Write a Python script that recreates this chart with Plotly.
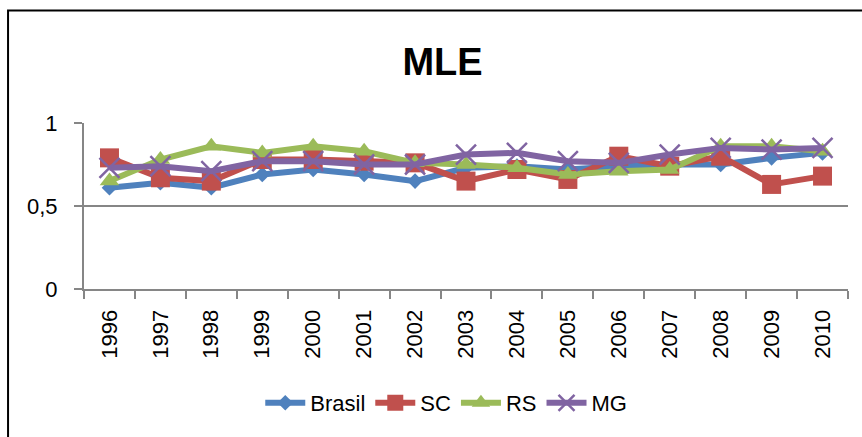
import plotly.graph_objects as go

years = ["1996", "1997", "1998", "1999", "2000", "2001", "2002", "2003",
         "2004", "2005", "2006", "2007", "2008", "2009", "2010"]
brasil = [0.61, 0.64, 0.61, 0.69, 0.72, 0.69, 0.65, 0.73, 0.74, 0.72, 0.74, 0.75, 0.75, 0.79, 0.82]
sc = [0.79, 0.67, 0.65, 0.78, 0.78, 0.77, 0.76, 0.65, 0.72, 0.66, 0.80, 0.74, 0.80, 0.63, 0.68]
rs = [0.65, 0.78, 0.86, 0.82, 0.86, 0.83, 0.76, 0.75, 0.73, 0.69, 0.71, 0.72, 0.86, 0.86, 0.83]
mg = [0.73, 0.74, 0.71, 0.77, 0.77, 0.75, 0.75, 0.81, 0.82, 0.77, 0.76, 0.81, 0.85, 0.84, 0.85]
y_ticks = [0, 0.5, 1]
y_labels = ["0", "0,5", "1"]

FONT = "Liberation Sans"

series = [
    ("Brasil", brasil, "#4F81BD", dict(symbol="diamond", size=12)),
    ("SC", sc, "#C0504D", dict(symbol="square", size=19)),
    ("RS", rs, "#9BBB59", dict(symbol="triangle-up", size=17)),
    ("MG", mg, "#8064A2", dict(symbol="x-thin", size=20, line=dict(width=2.5, color="#8064A2"))),
]

fig = go.Figure()
for name, vals, col, mk in series:
    fig.add_trace(go.Scatter(
        x=years, y=vals, name=name, mode="lines+markers",
        line=dict(color=col, width=6),
        marker=dict(color=col, **mk),
    ))

L, R, T, B = 83.5, 14, 123, 148
W, H = 862, 437
pw, ph = W - L - R, H - T - B

def px_to_paper_x(px):
    return (px - L) / pw

def px_to_paper_y(py):
    return (H - B - py) / ph

fig.update_layout(
    width=W, height=H,
    margin=dict(l=L, r=R, t=T, b=B, pad=0),
    paper_bgcolor="white", plot_bgcolor="white",
    font=dict(family=FONT, size=22, color="black"),
    title=dict(text="<b>MLE</b>", font=dict(family=FONT, size=38, color="black"),
               x=442.5 / W, xanchor="center", y=1 - 62 / H, yanchor="middle",
               xref="container", yref="container"),
    showlegend=True,
    legend=dict(orientation="h", x=px_to_paper_x(446), xanchor="center",
                y=px_to_paper_y(403), yanchor="middle",
                font=dict(family=FONT, size=22), itemwidth=40,
                bgcolor="rgba(0,0,0,0)"),
    xaxis=dict(type="category", tickangle=-90, showgrid=False,
               showline=True, linecolor="#868686", linewidth=2,
               ticks="outside", tickson="boundaries", ticklen=8,
               tickcolor="#868686", tickwidth=2, ticklabelstandoff=10,
               tickfont=dict(family=FONT, size=22), range=[-0.5, 14.5]),
    yaxis=dict(range=[0, 1], tickvals=y_ticks, ticktext=y_labels,
               showgrid=True, gridcolor="#868686", gridwidth=2,
               showline=True, linecolor="#868686", linewidth=2,
               ticks="outside", ticklen=8, tickcolor="#868686", tickwidth=2,
               ticklabelstandoff=12,
               zeroline=False, tickfont=dict(family=FONT, size=22)),
    shapes=[dict(type="rect", xref="paper", yref="paper",
                 x0=px_to_paper_x(7.5), x1=px_to_paper_x(880),
                 y0=px_to_paper_y(460), y1=px_to_paper_y(10.5),
                 line=dict(color="black", width=2), fillcolor="rgba(0,0,0,0)",
                 layer="above")],
)

fig.write_html("out.html", config={"displayModeBar": False},
               post_script="document.body.style.margin='0';document.body.style.overflow='hidden';")
